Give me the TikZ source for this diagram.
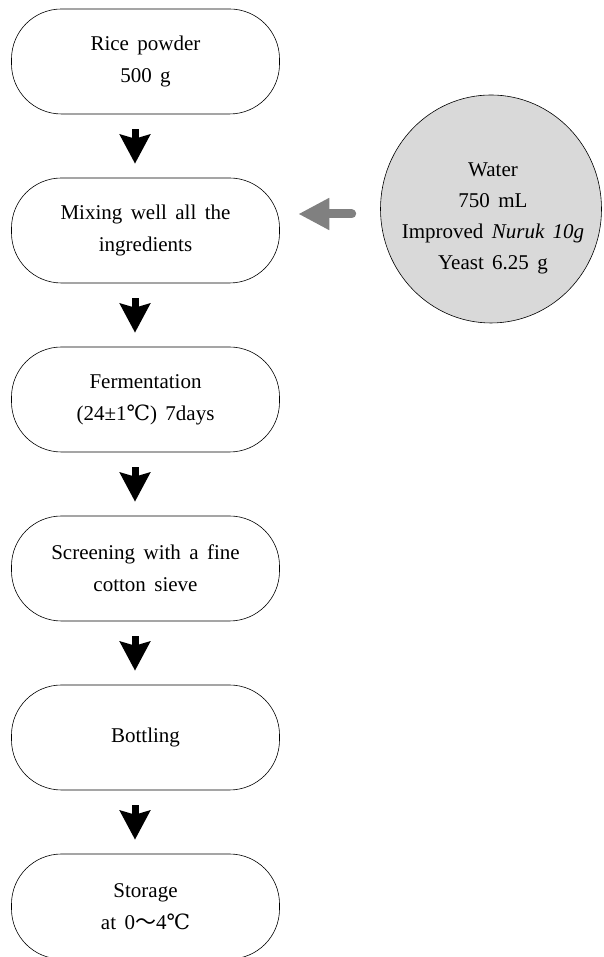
\documentclass[tikz,border=0pt]{standalone}
\usepackage{fontspec}
\setmainfont{Liberation Serif}
\newfontfamily\cjk{Noto Sans CJK KR}
\newfontfamily\symserif{DejaVu Serif}
\usetikzlibrary{arrows.meta,shapes.geometric}
\newcommand{\degC}{{\symserif ℃}}
\newcommand{\wavy}{{\cjk ～}}
\newcommand{\widesp}{\spaceskip=0.4em\relax}
\definecolor{addgray}{RGB}{128,128,128}
\definecolor{watergray}{RGB}{217,217,217}
\tikzset{
  stepbox/.style={draw, rectangle, rounded corners=50pt, minimum width=268pt,
    minimum height=105pt, align=center, line width=0.6pt,
    font=\fontsize{21}{32}\selectfont\widesp},
  downarrow/.style={line width=7pt, -{Stealth[length=29pt,width=30pt,inset=4pt]},
    shorten <=15pt, shorten >=14pt},
  addarrow/.style={draw=addgray, line width=9pt, line cap=round,
    -{Triangle[length=31pt,width=30pt]}}
}
\begin{document}
\begin{tikzpicture}[x=1pt,y=1pt]
  \useasboundingbox (0,0) rectangle (603,957);
  % process steps
  \node[stepbox] (rice) at (145.5,895.5) {Rice powder\\500 g};
  \node[stepbox] (mix) at (145.5,726.5) {Mixing well all the\\ingredients};
  \node[stepbox] (ferm) at (145.5,557.5) {Fermentation\\(24±1\degC) 7days};
  \node[stepbox] (sieve) at (145.5,388.5) {Screening with a fine\\cotton sieve};
  \node[stepbox] (bottle) at (145.5,219.5) {Bottling};
  \node[stepbox] (store) at (145.5,50.5) {Storage\\at 0\wavy4\degC};
  % added ingredients
  \node[ellipse, draw, fill=watergray, line width=0.6pt, minimum width=221pt,
    minimum height=228pt] (water) at (491,748) {};
  \node[align=center, font=\fontsize{21}{31}\selectfont\widesp]
    (waterText) at (493,739) {Water\\750 mL\\Improved \textit{Nuruk 10g}\\Yeast 6.25 g};
  % arrows
  \draw[downarrow] ([xshift=-10.5pt]rice.south) -- ([xshift=-10.5pt]mix.north);
  \draw[downarrow] ([xshift=-10.5pt]mix.south) -- ([xshift=-10.5pt]ferm.north);
  \draw[downarrow] ([xshift=-10.5pt]ferm.south) -- ([xshift=-10.5pt]sieve.north);
  \draw[downarrow] ([xshift=-10.5pt]sieve.south) -- ([xshift=-10.5pt]bottle.north);
  \draw[downarrow] ([xshift=-10.5pt]bottle.south) -- ([xshift=-10.5pt]store.north);
  \coordinate (w) at ([yshift=-5pt]water.west);
  \draw[addarrow, shorten <=28.5pt, shorten >=18.5pt] (w) -- (mix.east |- w);
\end{tikzpicture}
\end{document}
